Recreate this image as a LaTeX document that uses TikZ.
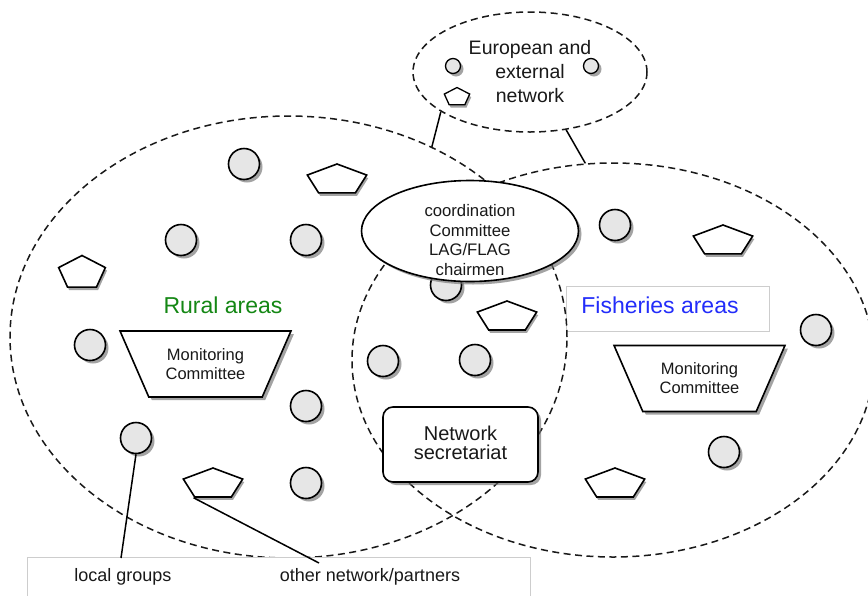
\documentclass[tikz,border=0pt]{standalone}
\usepackage{fontspec}
\setmainfont{Liberation Sans}
\usetikzlibrary{shapes.geometric,shadows}
\definecolor{circfill}{RGB}{230,230,230}
\definecolor{ruralgreen}{RGB}{20,135,20}
\definecolor{fishblue}{RGB}{35,45,250}
\definecolor{boxgray}{RGB}{205,205,205}
\tikzset{
  dashring/.style={draw=black!90, ellipse, dash pattern=on 7pt off 4.5pt, line width=1.5pt, inner sep=0pt},
  shad/.style={drop shadow={shadow xshift=3pt, shadow yshift=-3pt, fill=black!55, opacity=0.65}},
  member/.style={circle, draw=black, line width=1.6pt, fill=circfill, minimum size=31pt, inner sep=0pt, shad},
  smallmember/.style={member, minimum size=15pt, line width=1.3pt},
  pent/.style={regular polygon, regular polygon sides=5, draw=black, line width=1.6pt, fill=white,
    inner sep=0pt, minimum size=32pt, xscale=1.95, transform shape,
    drop shadow={shadow xshift=1.6pt, shadow yshift=-3pt, fill=black!55, opacity=0.65}},
  monitor/.style={trapezium, trapezium angle=57, shape border rotate=180, trapezium stretches=true,
    draw=black, line width=1.6pt, fill=white, minimum width=171pt, minimum height=66pt,
    inner sep=0pt, align=center, shad, font=\fontsize{16.5}{19}\selectfont},
  link/.style={draw=black, line width=1.5pt},
  lightbox/.style={draw=boxgray, line width=0.8pt, fill=white, inner sep=0pt},
}
\begin{document}
\begin{tikzpicture}[x=1pt, y=-1pt, text=black!90]
\fill[white] (0,0) rectangle (868,595);
\useasboundingbox (0,0) rectangle (868,595);

% box behind Fisheries label
\node[lightbox, minimum width=203pt, minimum height=45pt] (fishbox) at (667.5,308.5) {};

% dashed areas
\node[dashring, minimum width=557pt, minimum height=442pt] (rural) at (288.5,337) {};
\node[dashring, minimum width=522pt, minimum height=394pt] (fish) at (613,360) {};
\node[dashring, minimum width=234pt, minimum height=120pt] (eu) at (530,72) {};
\draw[link] (eu.204.7) -- (rural.53.3);
\draw[link] (eu.302.4) -- (fish.98.7);

% European network contents
\node[smallmember] (e1) at (453,66) {};
\node[smallmember] (e2) at (591,66) {};
\node[pent, minimum size=19pt, xscale=0.72, line width=1.3pt] (ep) at (457,97) {};
\node[align=center, font=\fontsize{19.5}{24}\selectfont] (eutxt) at (530,72) {European and\\external\\network};

% members (local groups)
\node[member] (c1) at (244,164) {};
\node[member] (c2) at (181,240) {};
\node[member] (c3) at (306,240) {};
\node[member] (c4) at (90,345) {};
\node[member] (c5) at (446,285) {};
\node[member] (c6) at (383,361) {};
\node[member] (c7) at (475,360) {};
\node[member] (c8) at (306,406) {};
\node[member] (c9) at (136,438) {};
\node[member] (c10) at (306,483) {};
\node[member] (c11) at (615,225) {};
\node[member] (c12) at (816,330) {};
\node[member] (c13) at (724,452) {};

% other networks / partners
\node[pent] (p1) at (337,180) {};
\node[pent, minimum size=35pt, xscale=0.72] (p2) at (82,273) {};
\node[pent] (p3) at (507,317) {};
\node[pent] (p4) at (213,484) {};
\node[pent] (p5) at (723,241) {};
\node[pent] (p6) at (615,484) {};

% monitoring committees
\node[monitor] (mc1) at (205.5,364) {Monitoring\\Committee};
\node[monitor] (mc2) at (699.5,378.5) {Monitoring\\Committee};

% coordination committee
\node[ellipse, draw=black, line width=1.6pt, fill=white, minimum width=217pt, minimum height=101pt,
      inner sep=0pt, shad] (coord) at (470,231) {};
\node[align=center, font=\fontsize{16.7}{19.5}\selectfont] (coordtxt) at (470,240)
  {coordination\\Committee\\LAG/FLAG\\chairmen};

% network secretariat
\node[draw=black, line width=1.6pt, fill=white, rounded corners=10pt, minimum width=155pt,
      minimum height=75pt, inner sep=0pt, align=center, shad,
      font=\fontsize{20}{22}\selectfont] (secr) at (460.5,444.5) {\raisebox{3pt}{\shortstack{Network\\[1pt]secretariat}}};

% area labels
\node[text=ruralgreen, font=\fontsize{23}{27}\selectfont] (rurallbl) at (223,305) {Rural areas};
\node[text=fishblue, font=\fontsize{23}{27}\selectfont] (fishlbl) at (660,305) {Fisheries areas};

% legend
\node[lightbox, minimum width=503pt, minimum height=50pt, anchor=north west] (legend) at (27,557) {};
\node[font=\fontsize{18}{21}\selectfont] (lg) at (123,577) {local groups};
\node[font=\fontsize{18}{21}\selectfont] (onp) at (370,577) {other network/partners};
\coordinate (lgend) at (121,558);
\coordinate (onpend) at (319,563);
\draw[link] (c9.south) -- (lgend);
\draw[link] (p4.corner 3) -- (onpend);
\end{tikzpicture}
\end{document}
